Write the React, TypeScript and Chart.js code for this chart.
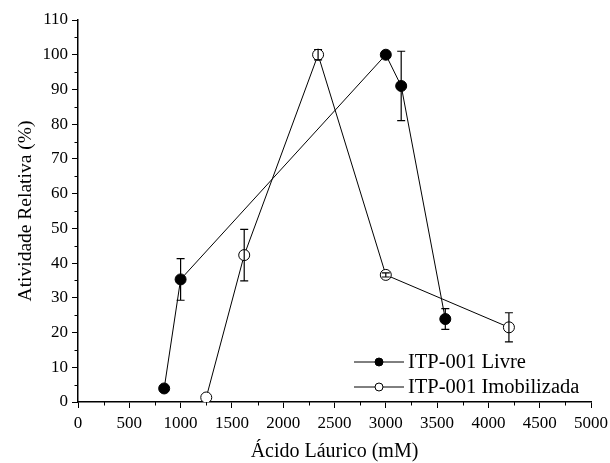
import React, { useEffect, useRef } from "react";
import { Chart, registerables } from "chart.js";

Chart.register(...registerables);

const livreX = [840, 1000, 3000, 3150, 3580];
const livreY = [3.9, 35.3, 100, 91, 23.9];
const livreErr = [0, 6, 0, 10, 3];

const imobX = [1250, 1620, 2340, 3000, 4200];
const imobY = [1.3, 42.3, 100, 36.6, 21.5];
const imobErr = [0, 7.4, 1.5, 0.6, 4.2];

const seriesLabels = ["ITP-001 Livre", "ITP-001 Imobilizada"];
const xTitle = "Ácido Láurico (mM)";
const yTitle = "Atividade Relativa (%)";

const FONT = "'Liberation Serif', 'Times New Roman', serif";

const errorBarPlugin = {
  id: "errorBars",
  afterDatasetsDraw(chart: any) {
    const ctx = chart.ctx;
    const xs = chart.scales.x;
    const ys = chart.scales.y;
    const errs = [livreErr, imobErr];
    ctx.save();
    ctx.strokeStyle = "#000";
    ctx.lineWidth = 1.2;
    chart.data.datasets.forEach((ds: any, di: number) => {
      ds.data.forEach((p: any, i: number) => {
        const e = errs[di][i];
        if (!e) return;
        const px = xs.getPixelForValue(p.x);
        const top = ys.getPixelForValue(p.y + e);
        const bot = ys.getPixelForValue(p.y - e);
        ctx.beginPath();
        ctx.moveTo(px, top);
        ctx.lineTo(px, bot);
        ctx.moveTo(px - 4, top);
        ctx.lineTo(px + 4, top);
        ctx.moveTo(px - 4, bot);
        ctx.lineTo(px + 4, bot);
        ctx.stroke();
      });
    });
    ctx.restore();
  },
};

const minorTickPlugin = {
  id: "minorTicks",
  afterDraw(chart: any) {
    const ctx = chart.ctx;
    const xs = chart.scales.x;
    const ys = chart.scales.y;
    const ca = chart.chartArea;
    ctx.save();
    ctx.strokeStyle = "#000";
    ctx.lineWidth = 1;
    ctx.beginPath();
    for (let v = 250; v < 5000; v += 500) {
      const px = Math.round(xs.getPixelForValue(v)) + 0.5;
      ctx.moveTo(px, ca.bottom);
      ctx.lineTo(px, ca.bottom + 3.5);
    }
    for (let v = 5; v < 110; v += 10) {
      const py = Math.round(ys.getPixelForValue(v)) + 0.5;
      ctx.moveTo(ca.left, py);
      ctx.lineTo(ca.left - 3.5, py);
    }
    ctx.stroke();
    ctx.restore();
  },
};

const legendPlugin = {
  id: "customLegend",
  afterDraw(chart: any) {
    const ctx = chart.ctx;
    const ca = chart.chartArea;
    const x0 = ca.right - 237;
    const rows = [ca.bottom - 40, ca.bottom - 15];
    ctx.save();
    ctx.font = `20.5px ${FONT}`;
    ctx.textBaseline = "middle";
    ctx.fillStyle = "#000";
    seriesLabels.forEach((label, i) => {
      const y = rows[i];
      ctx.strokeStyle = "#000";
      ctx.lineWidth = 1;
      ctx.beginPath();
      ctx.moveTo(x0, y);
      ctx.lineTo(x0 + 50, y);
      ctx.stroke();
      ctx.beginPath();
      ctx.arc(x0 + 25, y, 4, 0, Math.PI * 2);
      ctx.fillStyle = i === 0 ? "#000" : "#fff";
      ctx.fill();
      ctx.stroke();
      ctx.fillStyle = "#000";
      ctx.fillText(label, x0 + 54, y + 1);
    });
    ctx.restore();
  },
};

export default function App() {
  const ref = useRef<HTMLCanvasElement>(null);
  useEffect(() => {
    document.body.style.margin = "0";
    const chart = new Chart(ref.current!, {
      type: "scatter",
      data: {
        datasets: [
          {
            label: seriesLabels[0],
            data: livreX.map((x, i) => ({ x, y: livreY[i] })),
            showLine: true,
            borderColor: "#000",
            borderWidth: 1,
            backgroundColor: "#000",
            pointRadius: 5.5,
            pointBorderColor: "#000",
            pointBackgroundColor: "#000",
            pointBorderWidth: 1,
          },
          {
            label: seriesLabels[1],
            data: imobX.map((x, i) => ({ x, y: imobY[i] })),
            showLine: true,
            borderColor: "#000",
            borderWidth: 1,
            backgroundColor: "#fff",
            pointRadius: 5.5,
            pointBorderColor: "#000",
            pointBackgroundColor: "#fff",
            pointBorderWidth: 1,
          },
        ],
      },
      options: {
        animation: false,
        responsive: false,
        layout: { padding: { top: 20, right: 19, left: 0, bottom: 0 } },
        plugins: { legend: { display: false }, tooltip: { enabled: false } },
        scales: {
          x: {
            type: "linear",
            min: 0,
            max: 5000,
            afterFit: (s: any) => {
              s.height = 61;
              s.paddingLeft = 0;
              s.paddingRight = 0;
            },
            ticks: {
              stepSize: 500,
              color: "#000",
              font: { family: FONT, size: 17 },
              padding: 5,
              maxRotation: 0,
              autoSkip: false,
              callback: (v: any) => String(v),
            },
            grid: {
              drawOnChartArea: false,
              drawTicks: true,
              tickLength: 6,
              color: "#000",
            },
            border: { display: true, color: "#000", width: 1.5 },
            title: {
              display: true,
              text: xTitle,
              color: "#000",
              font: { family: FONT, size: 20 },
              padding: { top: 0, bottom: -1 },
            },
          },
          y: {
            type: "linear",
            min: 0,
            max: 110,
            afterFit: (s: any) => {
              s.width = 78;
              s.paddingTop = 0;
              s.paddingBottom = 0;
            },
            ticks: {
              stepSize: 10,
              color: "#000",
              font: { family: FONT, size: 17 },
              padding: 4,
              autoSkip: false,
              callback: (v: any) => String(v),
            },
            grid: {
              drawOnChartArea: false,
              drawTicks: true,
              tickLength: 6,
              color: "#000",
            },
            border: { display: true, color: "#000", width: 1.5 },
            title: {
              display: true,
              text: yTitle,
              color: "#000",
              font: { family: FONT, size: 19.5 },
              padding: { top: 14, bottom: 0 },
            },
          },
        },
      },
      plugins: [errorBarPlugin, minorTickPlugin, legendPlugin],
    });
    return () => chart.destroy();
  }, []);
  return <canvas ref={ref} width={610} height={463} style={{ display: "block" }} />;
}
